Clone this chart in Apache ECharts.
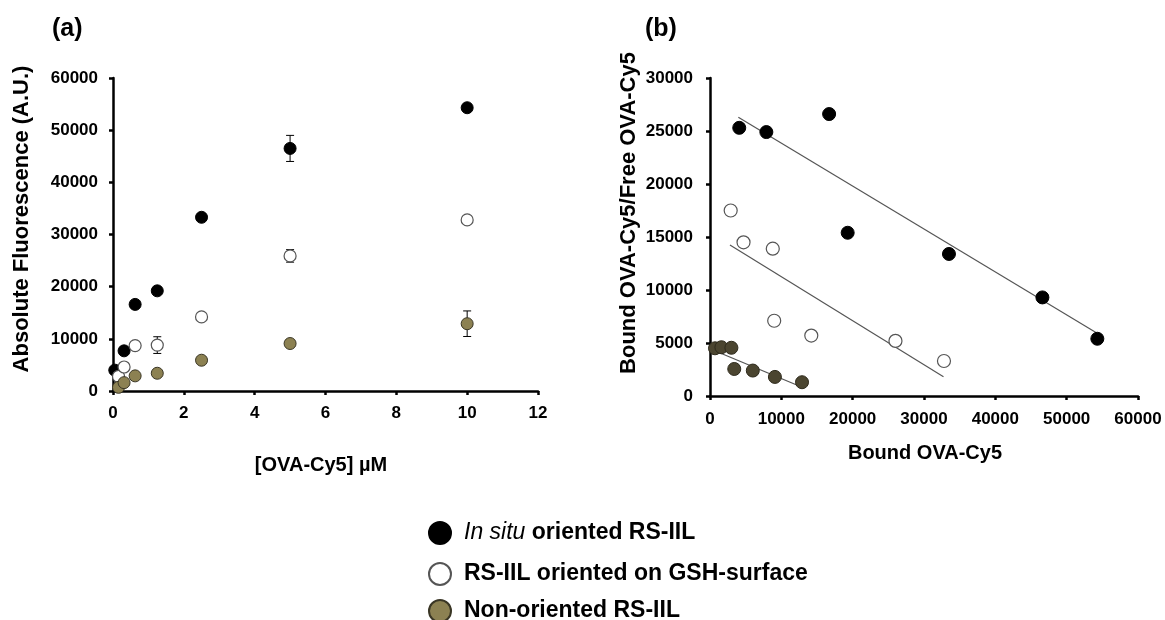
<!DOCTYPE html>
<html>
<head>
<meta charset="utf-8">
<script src="https://cdn.jsdelivr.net/npm/echarts@6/dist/echarts.min.js"></script>
<style>html,body{margin:0;padding:0;background:#fff}#c{width:1165px;height:620px}</style>
</head>
<body>
<div id="c"></div>
<script>
// ---------- Data ----------
const seriesNames = ['In situ oriented RS-IIL', 'RS-IIL oriented on GSH-surface', 'Non-oriented RS-IIL'];

// Panel (a): concentration [OVA-Cy5] µM vs absolute fluorescence
const concBlack = [0.05, 0.3125, 0.625, 1.25, 2.5, 5, 10];
const fluoBlack = [4000, 7700, 16600, 19200, 33300, 46500, 54300];
const errBlack  = [0, 0, 0, 0, 0, 2500, 500];

const concWhite = [0.156, 0.3125, 0.625, 1.25, 2.5, 5, 10];
const fluoWhite = [2800, 4600, 8700, 8800, 14200, 25900, 32800];
const errWhite  = [0, 0, 0, 1600, 0, 1200, 0];

const concOlive = [0.156, 0.3125, 0.625, 1.25, 2.5, 5, 10];
const fluoOlive = [700, 1600, 2900, 3400, 5900, 9100, 12900];
const errOlive  = [0, 0, 0, 0, 0, 0, 2450];

// Panel (b): Scatchard plot, bound vs bound/free
const boundBlack = [4100, 7900, 16700, 19300, 33500, 46600, 54300];
const ratioBlack = [25300, 24900, 26600, 15400, 13400, 9300, 5400];
const boundWhite = [2900, 4700, 8800, 9000, 14200, 26000, 32800];
const ratioWhite = [17500, 14500, 13900, 7100, 5700, 5200, 3300];
const boundOlive = [700, 1600, 3000, 3400, 6000, 9100, 12900];
const ratioOlive = [4500, 4600, 4550, 2550, 2400, 1800, 1300];

// Linear fits (end points)
const fitBlackX = [3970, 54280], fitBlackY = [26290, 5910];
const fitWhiteX = [2800, 32730], fitWhiteY = [14250, 1820];
const fitOliveX = [420, 12160],  fitOliveY = [4340, 1040];

// Axis ticks
const xTicksA = {min: 0, max: 12, interval: 2};
const yTicksA = {min: 0, max: 60000, interval: 10000};
const xTicksB = {min: 0, max: 60000, interval: 10000};
const yTicksB = {min: 0, max: 30000, interval: 5000};

// ---------- Chart ----------
const FONT = '"Liberation Sans", Arial, sans-serif';
const zip = (a, b) => a.map((v, i) => [v, b[i]]);
const zip3 = (a, b, c) => a.map((v, i) => [v, b[i], c[i]]);

const colBlack = {color: '#000', borderColor: '#000', borderWidth: 1, opacity: 1};
const colWhite = {color: '#fff', borderColor: '#555', borderWidth: 1.2, opacity: 1};
const colOliveA = {color: '#8c8152', borderColor: '#3a3625', borderWidth: 1, opacity: 1};
const colOliveB = {color: '#4b4530', borderColor: '#2e2a1c', borderWidth: 1, opacity: 1};

function axisCommon(t, margin) {
  return {
    min: t.min, max: t.max, interval: t.interval,
    axisLine: {show: true, onZero: false, lineStyle: {color: '#000', width: 2.5}},
    axisTick: {show: true, inside: false, length: 4, lineStyle: {color: '#000', width: 2.5}},
    splitLine: {show: false},
    axisLabel: {color: '#000', fontFamily: FONT, fontWeight: 'bold', fontSize: 17, margin: margin,
      formatter: v => String(v)}
  };
}

function errSeries(x, y, e) {
  return {
    type: 'custom', xAxisIndex: 0, yAxisIndex: 0, z: 1, silent: true,
    data: zip3(x, y, e).filter(d => d[2] > 0),
    renderItem: function (params, api) {
      const xv = api.value(0), yv = api.value(1), ev = api.value(2);
      const top = api.coord([xv, yv + ev]);
      const bot = api.coord([xv, yv - ev]);
      const hw = 4;
      const st = {stroke: '#000', lineWidth: 1};
      return {type: 'group', children: [
        {type: 'line', shape: {x1: top[0], y1: top[1], x2: bot[0], y2: bot[1]}, style: st},
        {type: 'line', shape: {x1: top[0] - hw, y1: top[1], x2: top[0] + hw, y2: top[1]}, style: st},
        {type: 'line', shape: {x1: bot[0] - hw, y1: bot[1], x2: bot[0] + hw, y2: bot[1]}, style: st}
      ]};
    }
  };
}

function fitLine(x, y) {
  return {
    type: 'line', xAxisIndex: 1, yAxisIndex: 1, data: zip(x, y), symbol: 'none',
    lineStyle: {color: '#555', width: 1.2}, z: 1, silent: true
  };
}

const legendText = {
  fontFamily: FONT, fontWeight: 'bold', fontSize: 23, color: '#000', lineHeight: 24, padding: [0, 0, 0, 8],
  rich: {
    i: {fontFamily: FONT, fontWeight: 'normal', fontStyle: 'italic', fontSize: 23, color: '#000', lineHeight: 24},
    b: {fontFamily: FONT, fontWeight: 'bold', fontSize: 23, color: '#000', lineHeight: 24}
  }
};
const legendTops = [521, 562, 599];
function legendFor(i) {
  return {
    data: [{name: seriesNames[i], icon: 'circle'}],
    orient: 'vertical', left: 428, top: legendTops[i], padding: 0,
    itemWidth: 22, itemHeight: 22,
    textStyle: legendText,
    formatter: function (name) {
      if (name.indexOf('In situ') === 0) return '{i|In situ} {b|' + name.slice(8) + '}';
      return '{b|' + name + '}';
    }
  };
}

const chart = echarts.init(document.getElementById('c'), null, {renderer: 'canvas'});
chart.setOption({
  animation: false,
  backgroundColor: '#fff',
  textStyle: {fontFamily: FONT},
  grid: [
    {left: 113, top: 78, width: 425, height: 313},
    {left: 710, top: 78, width: 428, height: 318}
  ],
  xAxis: [
    Object.assign(axisCommon(xTicksA, 14), {type: 'value', gridIndex: 0}),
    Object.assign(axisCommon(xTicksB, 15), {type: 'value', gridIndex: 1})
  ],
  yAxis: [
    Object.assign(axisCommon(yTicksA, 15), {type: 'value', gridIndex: 0}),
    Object.assign(axisCommon(yTicksB, 17), {type: 'value', gridIndex: 1})
  ],
  legend: [legendFor(0), legendFor(1), legendFor(2)],
  graphic: [
    {type: 'text', left: 52, top: 17, style: {text: '(a)', font: 'bold 25px ' + FONT, fill: '#000'}},
    {type: 'text', left: 645, top: 17, style: {text: '(b)', font: 'bold 25px ' + FONT, fill: '#000'}},
    {type: 'text', x: 22, y: 219, rotation: Math.PI / 2,
      style: {text: 'Absolute Fluorescence (A.U.)', font: 'bold 22px ' + FONT, fill: '#000', align: 'center', verticalAlign: 'middle'}},
    {type: 'text', x: 629, y: 213, rotation: Math.PI / 2,
      style: {text: 'Bound OVA-Cy5/Free OVA-Cy5', font: 'bold 22px ' + FONT, fill: '#000', align: 'center', verticalAlign: 'middle'}},
    {type: 'text', x: 321, y: 465,
      style: {text: '[OVA-Cy5] µM', font: 'bold 20px ' + FONT, fill: '#000', align: 'center', verticalAlign: 'middle'}},
    {type: 'text', x: 925, y: 453,
      style: {text: 'Bound OVA-Cy5', font: 'bold 20px ' + FONT, fill: '#000', align: 'center', verticalAlign: 'middle'}}
  ],
  series: [
    errSeries(concBlack, fluoBlack, errBlack),
    errSeries(concWhite, fluoWhite, errWhite),
    errSeries(concOlive, fluoOlive, errOlive),
    {name: seriesNames[0], type: 'scatter', xAxisIndex: 0, yAxisIndex: 0, symbolSize: 12, z: 2,
      data: zip(concBlack, fluoBlack), itemStyle: colBlack},
    {name: seriesNames[1], type: 'scatter', xAxisIndex: 0, yAxisIndex: 0, symbolSize: 12, z: 2,
      data: zip(concWhite, fluoWhite), itemStyle: colWhite},
    {name: seriesNames[2], type: 'scatter', xAxisIndex: 0, yAxisIndex: 0, symbolSize: 12, z: 2,
      data: zip(concOlive, fluoOlive), itemStyle: colOliveA},
    fitLine(fitBlackX, fitBlackY),
    fitLine(fitWhiteX, fitWhiteY),
    fitLine(fitOliveX, fitOliveY),
    {name: 'b-black', type: 'scatter', xAxisIndex: 1, yAxisIndex: 1, symbolSize: 13, z: 2,
      data: zip(boundBlack, ratioBlack), itemStyle: colBlack},
    {name: 'b-white', type: 'scatter', xAxisIndex: 1, yAxisIndex: 1, symbolSize: 13, z: 2,
      data: zip(boundWhite, ratioWhite), itemStyle: colWhite},
    {name: 'b-olive', type: 'scatter', xAxisIndex: 1, yAxisIndex: 1, symbolSize: 13, z: 2,
      data: zip(boundOlive, ratioOlive), itemStyle: colOliveB}
  ]
});
</script>
</body>
</html>
